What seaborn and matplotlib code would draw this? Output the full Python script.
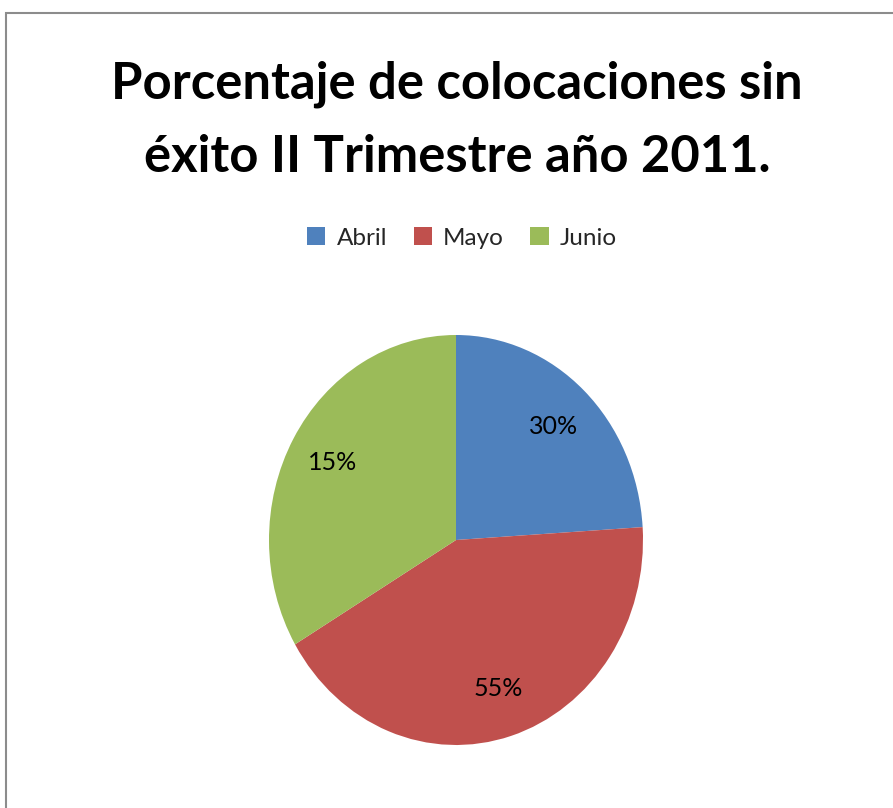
import matplotlib
matplotlib.use("Agg")
import matplotlib.pyplot as plt
import seaborn as sns
from matplotlib.patches import Rectangle

sns.set_theme(style="white")
plt.rcParams['font.family'] = ['Lato', 'DejaVu Sans']

# Data
months = ["Abril", "Mayo", "Junio"]
slice_values = [24.0, 42.5, 33.5]
slice_labels = ["30%", "55%", "15%"]
colors = ["#4F81BD", "#C0504D", "#9BBB59"]
title_lines = ["Porcentaje de colocaciones sin", "éxito II Trimestre año 2011."]

fig = plt.figure(figsize=(8.93, 8.08), dpi=100)
fig.patch.set_facecolor("white")

# outer chart border (top and left visible)
fig.add_artist(Rectangle((6/893, -0.1), 1.2, 1 - 13/808 + 0.1, transform=fig.transFigure,
                         fill=False, edgecolor="#8c8c8c", linewidth=1.5))

ax = fig.add_axes([269/893, 63/808, 374/893, 410/808])
wedges, texts, autotexts = ax.pie(slice_values, colors=colors, startangle=90, counterclock=False,
                                  autopct="%1.0f%%", pctdistance=0.76, radius=1.0,
                                  wedgeprops=dict(linewidth=0))
for t, lab in zip(autotexts, slice_labels):
    t.set_text(lab)
    t.set_fontsize(18)
    t.set_color("black")
ax.set_aspect("auto")
ax.set_xlim(-1, 1)
ax.set_ylim(-1, 1)
ax.axis("off")

for line, base in zip(title_lines, [98, 172]):
    fig.text(457/893, 1 - base/808, line, ha="center", va="baseline", fontsize=36.5,
             fontweight="bold", color="black")

leg = fig.legend(wedges, months, loc="center", bbox_to_anchor=(462/893, 1 - 238/808),
                 ncol=3, frameon=False, fontsize=17.5, handlelength=0.75, handleheight=0.75,
                 handletextpad=0.45, columnspacing=1.1)

fig.savefig("out.png", dpi=100)
